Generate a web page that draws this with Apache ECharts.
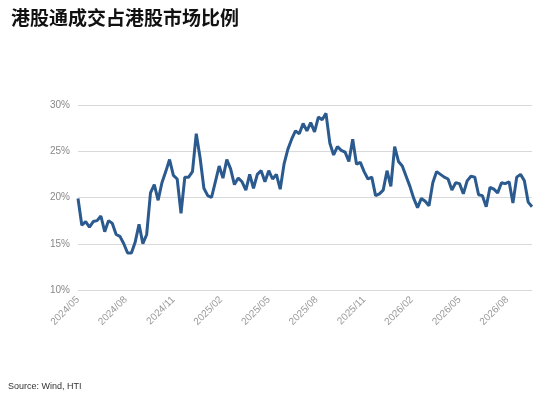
<!DOCTYPE html>
<html><head><meta charset="utf-8">
<script src="https://cdn.jsdelivr.net/npm/echarts@6/dist/echarts.min.js"></script>
<style>html,body{margin:0;padding:0;background:#fff}#c{width:550px;height:404px}</style>
</head><body><div id="c"></div>
<script>
const tickLabels = ['2024/05','2024/08','2024/11','2025/02','2025/05','2025/08','2025/11','2026/02','2026/05','2026/08'];
const shareValues = [
19.9,17.0,17.4,16.8,17.4,17.5,18.0,16.3,17.5,17.2,16.0,15.8,15.0,14.0,14.0,15.2,17.1,15.0,16.0,20.5,
21.4,19.7,21.6,22.8,24.1,22.4,22.0,18.3,22.2,22.2,22.8,26.9,24.3,21.0,20.2,20.0,21.7,23.4,22.1,24.1,
23.1,21.4,22.1,21.7,20.8,22.5,21.0,22.5,22.9,21.7,22.9,22.0,22.5,20.9,23.6,25.2,26.3,27.2,26.9,28.0,
27.2,28.1,27.1,28.7,28.4,29.1,25.9,24.6,25.5,25.1,24.9,23.9,26.3,23.6,23.8,22.8,22.0,22.2,20.2,20.4,
20.8,22.9,21.2,25.5,23.9,23.4,22.3,21.2,19.9,18.9,19.9,19.6,19.1,21.6,22.8,22.5,22.2,22.0,20.8,21.6,
21.5,20.4,21.8,22.3,22.2,20.3,20.2,19.0,21.1,20.9,20.5,21.6,21.5,21.7,19.4,22.2,22.5,21.8,19.5,19.0
];
const n = shareValues.length;
const chart = echarts.init(document.getElementById('c'));
chart.setOption({
  animation:false,
  title:{text:'港股通成交占港股市场比例',left:6,top:3,textStyle:{fontSize:19,fontWeight:'bold',color:'#111',fontFamily:'Noto Sans CJK SC'}},
  graphic:[{type:'text',left:8,top:382,style:{text:'Source: Wind, HTI',fontSize:9,fill:'#333',fontFamily:'Arial'}}],
  grid:{left:78,right:18,top:105,bottom:114},
  xAxis:{type:'value',min:0,max:n-1,interval:12.5,
    axisLine:{show:false},axisTick:{show:false},splitLine:{show:false},
    axisLabel:{rotate:45,color:'#999',fontSize:10,margin:8,showMaxLabel:false,
      formatter:v=>{const k=Math.round(v/12.5);return tickLabels[k]||'';}}},
  yAxis:{type:'value',min:10,max:30,interval:5,
    axisLine:{show:false},axisTick:{show:false},
    splitLine:{lineStyle:{color:'#d9d9d9',width:1}},
    axisLabel:{color:'#888',fontSize:10,formatter:v=>v+'%'}},
  series:[{type:'line',data:shareValues.map((v,i)=>[i,v]),showSymbol:false,
    lineStyle:{color:'#2b5a8f',width:3},itemStyle:{color:'#2b5a8f'}}]
});
</script></body></html>
